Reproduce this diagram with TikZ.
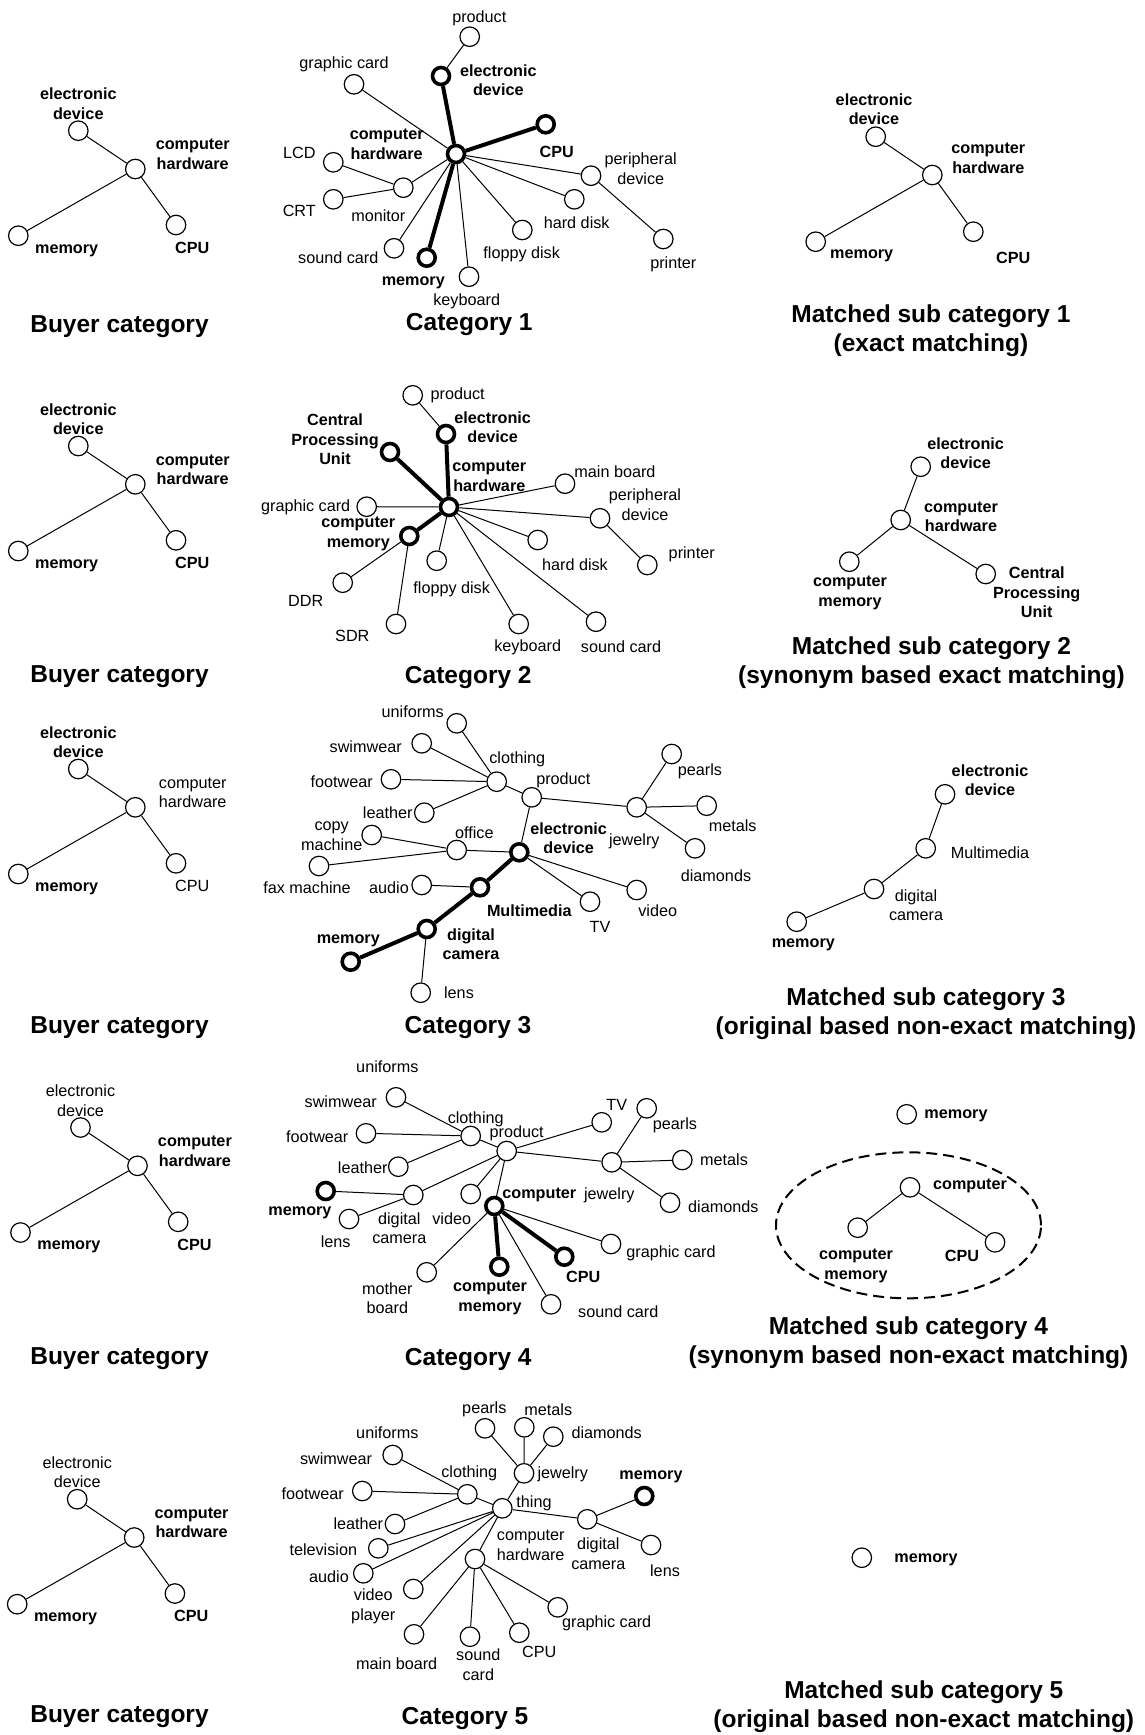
\documentclass[tikz,border=0pt]{standalone}
\usepackage{fontspec}
\setmainfont{Liberation Sans}
\usetikzlibrary{shapes.geometric}
\tikzset{
  vx/.style={circle, draw, fill=white, minimum size=19.5pt, inner sep=0pt, line width=1.2pt},
  vxk/.style={vx, line width=3.6pt, minimum size=17pt},
  lb/.style={align=center, inner sep=0pt, yshift=-2.2pt, font=\fontsize{16.2}{19.5}\selectfont},
  lbb/.style={lb, font=\fontsize{16.2}{19.5}\selectfont\bfseries},
  ml/.style={yshift=2.2pt},
  ttl/.style={align=center, inner sep=0pt, yshift=-3.3pt, font=\fontsize{24.5}{29}\selectfont\bfseries},
  ln/.style={line width=1pt},
  lnk/.style={line width=4pt},
  grp/.style={ellipse, draw, dashed, dash pattern=on 11pt off 6pt, line width=2pt, minimum width=265pt, minimum height=146pt}
}
\newcommand{\vn}[6]{\node[#1] (#2) at (#3) {}; \node[#4] (#2l) at (#5) {#6};}
\newcommand{\buyer}[7]{%
\begin{scope}[shift={(#2,#3)}]
\vn{vx}{#1ed}{78.3,130.7}{#4,ml}{78.3,103.7}{electronic\\device}
\vn{vx}{#1ch}{135.3,169}{#5,ml}{192.7,154.5}{computer\\hardware}
\vn{vx}{#1me}{18.3,235.7}{#6}{66.7,248.3}{memory}
\vn{vx}{#1cp}{176,225}{#7}{192.3,245.7}{CPU}
\draw[ln] (#1ch) -- (#1ed) (#1ch) -- (#1me) (#1ch) -- (#1cp);
\end{scope}}
\begin{document}
\begin{tikzpicture}[x=1pt,y=-1pt]
\useasboundingbox (0,0) rectangle (1145,1735);
% ---------------- left column: buyer categories
\buyer{a1}{0}{0}{lbb}{lbb}{lbb}{lbb}
\buyer{a2}{0}{315.3}{lbb}{lbb}{lbb}{lbb}
\buyer{a3}{0}{638.3}{lbb}{lb}{lbb}{lb}
\buyer{a4}{2.2}{996.8}{lb}{lbb}{lbb}{lbb}
\buyer{a5}{-1.1}{1368.5}{lb}{lbb}{lbb}{lbb}
\node[ttl] (a1t) at (119.5,323) {Buyer category};
\node[ttl] (a2t) at (119.5,673.7) {Buyer category};
\node[ttl] (a3t) at (119.5,1024.4) {Buyer category};
\node[ttl] (a4t) at (119.5,1355.2) {Buyer category};
\node[ttl] (a5t) at (119.5,1713.7) {Buyer category};
% ---------------- Category 1
\vn{vx}{b1pr}{469.7,36.7}{lb}{479.3,15.7}{product}
\vn{vxk}{b1ed}{441,76}{lbb,ml}{498.3,80}{electronic\\device}
\vn{vx}{b1gc}{354,84.3}{lb}{344,62.3}{graphic card}
\vn{vxk}{b1ch}{456,154}{lbb,ml}{386.7,144.3}{computer\\hardware}
\vn{vxk}{b1cp}{545.7,124.3}{lbb}{556.7,149.3}{CPU}
\vn{vx}{b1lc}{333.3,162.3}{lb}{299.3,151}{LCD}
\vn{vx}{b1cr}{333.3,199.3}{lb}{299.3,209}{CRT}
\vn{vx}{b1mo}{403.3,187.7}{lb}{378.3,214}{monitor}
\vn{vx}{b1sc}{394,248.3}{lb}{338.3,255.7}{sound card}
\vn{vxk}{b1me}{426.7,257.7}{lbb}{413.3,281}{memory}
\vn{vx}{b1kb}{469,276.7}{lb}{466.7,299}{keyboard}
\vn{vx}{b1fd}{522.3,230}{lb}{521.7,252.3}{floppy disk}
\vn{vx}{b1hd}{574.3,199.3}{lb}{576.7,221}{hard disk}
\vn{vx}{b1pe}{591,175.7}{lb,ml}{640.7,168.7}{peripheral\\device}
\vn{vx}{b1pt}{663.3,239}{lb}{673.3,261.7}{printer}
\draw[ln] (b1pr) -- (b1ed) (b1ch) -- (b1gc) (b1ch) -- (b1mo) (b1mo) -- (b1lc) (b1mo) -- (b1cr)
  (b1ch) -- (b1sc) (b1ch) -- (b1kb) (b1ch) -- (b1fd) (b1ch) -- (b1hd) (b1ch) -- (b1pe) (b1pe) -- (b1pt);
\draw[lnk] (b1ed) -- (b1ch) (b1ch) -- (b1cp) (b1ch) -- (b1me);
\node[ttl] (b1t) at (469.3,321.7) {Category 1};
% ---------------- Category 2
\vn{vx}{b2pr}{412.7,395.3}{lb}{457.7,393.3}{product}
\vn{vxk}{b2ed}{446,434}{lbb,ml}{492.7,427}{electronic\\device}
\vn{vxk}{b2cp}{390,452}{lbb,ml}{335,439.7}{Central\\Processing\\Unit}
\vn{vxk}{b2ch}{449,507}{lbb,ml}{489.3,476.2}{computer\\hardware}
\vn{vx}{b2mb}{565,483.7}{lb}{615,469.3}{main board}
\vn{vx}{b2gc}{366.7,506.7}{lb}{305.7,505}{graphic card}
\vn{vxk}{b2cm}{409.3,536}{lbb,ml}{358.3,533.8}{computer\\memory}
\vn{vx}{b2pe}{600,518.3}{lb,ml}{645,504.5}{peripheral\\device}
\vn{vx}{b2pt}{647.3,565}{lb}{691.7,551.7}{printer}
\vn{vx}{b2hd}{537.7,540}{lb}{575,562.7}{hard disk}
\vn{vx}{b2fd}{436.7,560.7}{lb}{451.7,586.7}{floppy disk}
\vn{vx}{b2dd}{342.7,582.7}{lb}{305.7,598.3}{DDR}
\vn{vx}{b2sd}{396,624}{lb}{352.3,633.3}{SDR}
\vn{vx}{b2kb}{518.7,624}{lb}{527.7,645}{keyboard}
\vn{vx}{b2sc}{596,621.7}{lb}{621,645}{sound card}
\draw[ln] (b2pr) -- (b2ed) (b2ch) -- (b2mb) (b2ch) -- (b2gc) (b2ch) -- (b2pe) (b2pe) -- (b2pt)
  (b2ch) -- (b2hd) (b2ch) -- (b2fd) (b2ch) -- (b2kb) (b2ch) -- (b2sc) (b2cm) -- (b2dd) (b2cm) -- (b2sd);
\draw[lnk] (b2ed) -- (b2ch) (b2cp) -- (b2ch) (b2ch) -- (b2cm);
\node[ttl] (b2t) at (468.3,674) {Category 2};
% ---------------- Category 3
\vn{vx}{b3un}{456.7,723.3}{lb}{412.7,709.3}{uniforms}
\vn{vx}{b3sw}{421.7,743.3}{lb}{365.7,744.3}{swimwear}
\vn{vx}{b3cl}{496.7,781.7}{lb}{517.3,756.7}{clothing}
\vn{vx}{b3fw}{391,779.3}{lb}{341.7,779.3}{footwear}
\vn{vx}{b3le}{424.3,812.7}{lb}{387.7,810}{leather}
\vn{vx}{b3pr}{531.7,797.3}{lb}{563.3,777.7}{product}
\vn{vx}{b3je}{636.7,807.3}{lb}{634.3,839}{jewelry}
\vn{vx}{b3pe}{671.7,754}{lb}{700,769}{pearls}
\vn{vx}{b3mt}{706.7,805.7}{lb}{732.7,823.3}{metals}
\vn{vx}{b3di}{695,848.3}{lb}{716,873.3}{diamonds}
\vn{vx}{b3cm}{371.7,835}{lb,ml}{331.7,836.2}{copy\\machine}
\vn{vx}{b3of}{456.7,850}{lb}{474.3,830}{office}
\vn{vxk}{b3ed}{519.3,852.3}{lbb,ml}{568.7,838}{electronic\\device}
\vn{vx}{b3fx}{319,866}{lb}{307,885}{fax machine}
\vn{vx}{b3au}{421.7,885}{lb}{389,885}{audio}
\vn{vxk}{b3mm}{480,887.3}{lbb}{529.3,908.3}{Multimedia}
\vn{vx}{b3tv}{590,901.7}{lb}{600,925}{TV}
\vn{vx}{b3vi}{636.7,890}{lb}{657.7,908.3}{video}
\vn{vxk}{b3dc}{426.7,929}{lbb,ml}{471,944.2}{digital\\camera}
\vn{vxk}{b3me}{350.7,961.7}{lbb}{348.3,938.3}{memory}
\vn{vx}{b3ln}{420.7,992.7}{lb}{459,990}{lens}
\draw[ln] (b3un) -- (b3cl) (b3sw) -- (b3cl) (b3fw) -- (b3cl) (b3le) -- (b3cl) (b3cl) -- (b3pr)
  (b3pr) -- (b3je) (b3je) -- (b3pe) (b3je) -- (b3mt) (b3je) -- (b3di) (b3pr) -- (b3ed)
  (b3cm) -- (b3of) (b3fx) -- (b3of) (b3of) -- (b3ed) (b3ed) -- (b3tv) (b3ed) -- (b3vi)
  (b3au) -- (b3mm) (b3dc) -- (b3ln);
\draw[lnk] (b3ed) -- (b3mm) (b3mm) -- (b3dc) (b3dc) -- (b3me);
\node[ttl] (b3t) at (468,1024.5) {Category 3};
% ---------------- Category 4
\node[lb] (b4unl) at (387.3,1064) {uniforms};
\vn{vx}{b4sw}{396,1097.3}{lb}{340.7,1099}{swimwear}
\vn{vx}{b4cl}{470.7,1136}{lb}{475.7,1116.7}{clothing}
\vn{vx}{b4fw}{366,1133.3}{lb}{317.3,1134.3}{footwear}
\vn{vx}{b4le}{398.3,1166.7}{lb}{362.7,1165}{leather}
\vn{vx}{b4pr}{506.7,1151}{lb}{516.7,1131}{product}
\vn{vx}{b4tv}{601.7,1122.3}{lb}{616.7,1102.3}{TV}
\vn{vx}{b4pe}{646.7,1108.3}{lb}{675,1123.3}{pearls}
\vn{vx}{b4je}{611.7,1162.3}{lb}{609.3,1192.7}{jewelry}
\vn{vx}{b4mt}{682.3,1160}{lb}{724,1157.3}{metals}
\vn{vx}{b4di}{670,1202.7}{lb}{723.3,1204.3}{diamonds}
\vn{vxk}{b4me}{325.7,1191}{lbb}{300,1210.7}{memory}
\vn{vx}{b4dc}{413.3,1195}{lb,ml}{399.3,1228}{digital\\camera}
\vn{vx}{b4ln}{349,1219}{lb}{335.7,1239.3}{lens}
\vn{vx}{b4vi}{470.7,1194}{lb}{451.7,1216}{video}
\vn{vxk}{b4co}{494.3,1206}{lbb}{539.3,1192.7}{computer}
\vn{vx}{b4gc}{611,1244}{lb}{671,1250.7}{graphic card}
\vn{vxk}{b4cp}{564.3,1256.7}{lbb}{583.3,1274.3}{CPU}
\vn{vxk}{b4cm}{499.3,1266.7}{lbb,ml}{490,1298}{computer\\memory}
\vn{vx}{b4mb}{426.7,1272.3}{lb,ml}{387.3,1298}{mother\\board}
\vn{vx}{b4sc}{551,1304.3}{lb}{618.3,1309.3}{sound card}
\draw[ln] (b4sw) -- (b4cl) (b4fw) -- (b4cl) (b4le) -- (b4cl) (b4cl) -- (b4pr) (b4pr) -- (b4tv)
  (b4pr) -- (b4je) (b4je) -- (b4pe) (b4je) -- (b4mt) (b4je) -- (b4di) (b4pr) -- (b4dc)
  (b4dc) -- (b4me) (b4dc) -- (b4ln) (b4pr) -- (b4vi) (b4pr) -- (b4co) (b4co) -- (b4gc)
  (b4co) -- (b4mb) (b4co) -- (b4sc);
\draw[lnk] (b4co) -- (b4cm) (b4co) -- (b4cp);
\node[ttl] (b4t) at (468.3,1356.7) {Category 4};
% ---------------- Category 5
\vn{vx}{b5pe}{485,1428.3}{lb}{484.3,1407.3}{pearls}
\vn{vx}{b5mt}{524.3,1427.3}{lb}{548.3,1407.3}{metals}
\vn{vx}{b5di}{553.3,1436.7}{lb}{606.7,1430.7}{diamonds}
\node[lb] (b5unl) at (387.3,1430.7) {uniforms};
\vn{vx}{b5sw}{392.7,1455}{lb}{336,1456.7}{swimwear}
\vn{vx}{b5cl}{467.3,1494.3}{lb}{469.3,1471}{clothing}
\vn{vx}{b5je}{524,1473.3}{lb}{562.7,1471.7}{jewelry}
\vn{vx}{b5fw}{362.3,1491}{lb}{312.7,1491}{footwear}
\vn{vx}{b5th}{502.3,1508.3}{lb}{534,1501}{thing}
\vn{vxk}{b5me}{644.3,1496}{lbb}{651,1475}{memory}
\vn{vx}{b5le}{395,1524}{lb}{358.3,1521.7}{leather}
\vn{vx}{b5dc}{587.3,1519.3}{lb,ml}{598.3,1553.7}{digital\\camera}
\vn{vx}{b5tv}{378.3,1548.3}{lb}{323.3,1547.7}{television}
\vn{vx}{b5ch}{475,1559}{lb,ml}{530.7,1545.5}{computer\\hardware}
\vn{vx}{b5ln}{651,1545}{lb}{665,1568.3}{lens}
\vn{vx}{b5au}{363.3,1573.3}{lb}{329,1574}{audio}
\vn{vx}{b5vp}{413.3,1589}{lb,ml}{373.3,1606.3}{video\\player}
\vn{vx}{b5gc}{557.7,1607.3}{lb}{606.7,1620.7}{graphic card}
\vn{vx}{b5mb}{414,1634.3}{lb}{396.7,1661.7}{main board}
\vn{vx}{b5sc}{470,1636.7}{lb,ml}{478.3,1664.7}{sound\\card}
\vn{vx}{b5cp}{519.3,1632.7}{lb}{539.3,1649.3}{CPU}
\draw[ln] (b5pe) -- (b5je) (b5mt) -- (b5je) (b5di) -- (b5je) (b5je) -- (b5th)
  (b5sw) -- (b5cl) (b5fw) -- (b5cl) (b5le) -- (b5cl) (b5cl) -- (b5th) (b5th) -- (b5dc)
  (b5dc) -- (b5me) (b5dc) -- (b5ln) (b5th) -- (b5tv) (b5th) -- (b5au) (b5th) -- (b5vp)
  (b5th) -- (b5ch) (b5ch) -- (b5mb) (b5ch) -- (b5sc) (b5ch) -- (b5cp) (b5ch) -- (b5gc);
\node[ttl] (b5t) at (465,1715) {Category 5};
% ---------------- right column
\vn{vx}{c1ed}{875.7,136.7}{lbb,ml}{874,109}{electronic\\device}
\vn{vx}{c1ch}{932.3,175}{lbb,ml}{988.3,158.3}{computer\\hardware}
\vn{vx}{c1me}{815.7,241.7}{lbb}{861.7,253.3}{memory}
\vn{vx}{c1cp}{973.3,231.7}{lbb}{1013.3,255.7}{CPU}
\draw[ln] (c1ch) -- (c1ed) (c1ch) -- (c1me) (c1ch) -- (c1cp);
\node[ttl] (c1t) at (931,327.5) {Matched sub category 1\\(exact matching)};
\vn{vx}{c2ed}{920.7,466.7}{lbb,ml}{965.7,453}{electronic\\device}
\vn{vx}{c2ch}{900.7,520}{lbb,ml}{961,516.7}{computer\\hardware}
\vn{vx}{c2cm}{849.3,561.7}{lbb,ml}{850,593}{computer\\memory}
\vn{vx}{c2cp}{985.7,574}{lbb,ml}{1036.7,592.5}{Central\\Processing\\Unit}
\draw[ln] (c2ch) -- (c2ed) (c2ch) -- (c2cm) (c2ch) -- (c2cp);
\node[ttl] (c2t) at (931.5,659.4) {Matched sub category 2\\(synonym based exact matching)};
\vn{vx}{c3ed}{945,794.3}{lbb,ml}{990,780}{electronic\\device}
\vn{vx}{c3mm}{925.7,848.3}{lb}{990,850}{Multimedia}
\vn{vx}{c3dc}{874,889}{lb,ml}{916,905}{digital\\camera}
\vn{vx}{c3me}{796.7,921.7}{lbb}{803.3,942.3}{memory}
\draw[ln] (c3ed) -- (c3mm) (c3mm) -- (c3dc) (c3dc) -- (c3me);
\node[ttl] (c3t) at (926,1010.6) {Matched sub category 3\\(original based non-exact matching)};
\vn{vx}{c4me}{906.7,1114.3}{lbb}{956,1113.3}{memory}
\node[grp] (c4g) at (908.5,1225.3) {};
\vn{vx}{c4co}{910,1187.3}{lbb}{970,1183.3}{computer}
\vn{vx}{c4cm}{857.7,1227.7}{lbb,ml}{856,1266}{computer\\memory}
\vn{vx}{c4cp}{995,1242.3}{lbb}{962,1253.3}{CPU}
\draw[ln] (c4co) -- (c4cm) (c4co) -- (c4cp);
\node[ttl] (c4t) at (908.5,1339.2) {Matched sub category 4\\(synonym based non-exact matching)};
\vn{vx}{c5me}{861.8,1557.7}{lbb}{926,1557.7}{memory}
\node[ttl] (c5t) at (923.8,1703.7) {Matched sub category 5\\(original based non-exact matching)};
\end{tikzpicture}
\end{document}
